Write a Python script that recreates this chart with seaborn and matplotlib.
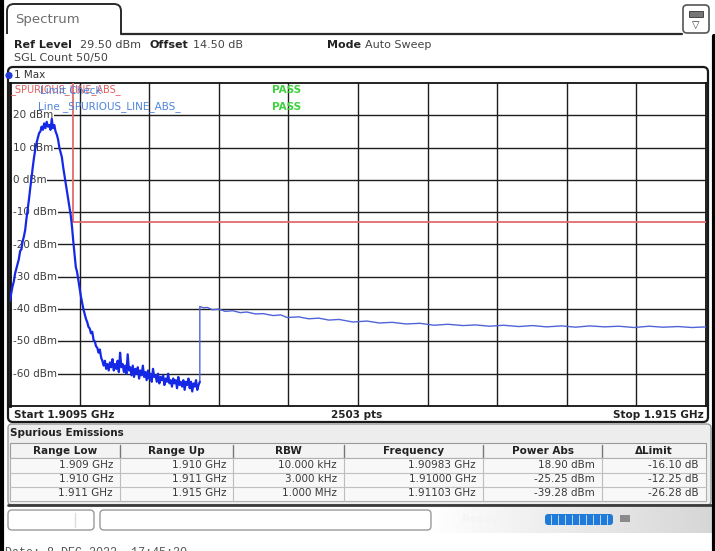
import numpy as np
import pandas as pd
import matplotlib
matplotlib.use("Agg")
import matplotlib.pyplot as plt
import seaborn as sns
from matplotlib.patches import FancyBboxPatch, Rectangle, Circle
from matplotlib.lines import Line2D
from matplotlib.transforms import Affine2D

# ---- trace (MHz, dBm) ----
# dense part: carrier + close-in emissions up to 1.911 GHz
peak_freq = [
    1909.50, 1909.51, 1909.52, 1909.53, 1909.54, 1909.55, 1909.56, 1909.57, 1909.58, 1909.59,
    1909.60, 1909.61, 1909.62, 1909.63, 1909.64, 1909.65, 1909.66, 1909.67, 1909.68, 1909.69,
    1909.70, 1909.71, 1909.72, 1909.73, 1909.74, 1909.75, 1909.76, 1909.77, 1909.78, 1909.79,
    1909.80, 1909.81, 1909.82, 1909.83, 1909.84, 1909.85, 1909.86, 1909.87, 1909.88, 1909.89,
    1909.90, 1909.91, 1909.92, 1909.93, 1909.94, 1909.95, 1909.96, 1909.97, 1909.98, 1909.99,
    1910.00, 1910.01, 1910.02, 1910.03, 1910.04, 1910.05, 1910.06, 1910.07, 1910.08, 1910.09,
    1910.10, 1910.11, 1910.12, 1910.13, 1910.14, 1910.15, 1910.16, 1910.17, 1910.18, 1910.19,
    1910.20, 1910.21, 1910.22, 1910.23, 1910.24, 1910.25, 1910.26, 1910.27, 1910.28, 1910.29,
    1910.30, 1910.31, 1910.32, 1910.33, 1910.34, 1910.35, 1910.36, 1910.37, 1910.38, 1910.39,
    1910.40, 1910.41, 1910.42, 1910.43, 1910.44, 1910.45, 1910.46, 1910.47, 1910.48, 1910.49,
    1910.50, 1910.51, 1910.52, 1910.53, 1910.54, 1910.55, 1910.56, 1910.57, 1910.58, 1910.59,
    1910.60, 1910.61, 1910.62, 1910.63, 1910.64, 1910.65, 1910.66, 1910.67, 1910.68, 1910.69,
    1910.70, 1910.71, 1910.72, 1910.73, 1910.74, 1910.75, 1910.76, 1910.77, 1910.78, 1910.79,
    1910.80, 1910.81, 1910.82, 1910.83, 1910.84, 1910.85, 1910.86, 1910.87, 1910.88, 1910.89,
    1910.90, 1910.91, 1910.92, 1910.93, 1910.94, 1910.95, 1910.96, 1910.97, 1910.98, 1910.99,
    1911.00,
]
peak_level = [
    -37.5, -35.0, -33.0, -31.5, -29.0, -27.5, -26.0, -24.5, -22.0, -21.5,
    -19.0, -17.5, -15.5, -12.0, -9.0, -6.0, -2.5, 0.5, 4.0, 7.0,
    9.5, 11.5, 13.0, 14.5, 15.0, 16.5, 15.5, 17.5, 16.0, 18.0,
    16.5, 17.0, 15.5, 18.9, 16.0, 17.0, 15.0, 14.0, 12.5, 10.0,
    8.5, 7.0, 4.0, 1.5, -1.0, -3.5, -6.0, -8.5, -11.0, -14.5,
    -19.0, -23.0, -27.0, -28.5, -31.0, -33.5, -36.0, -38.0, -40.0, -41.5,
    -43.0, -44.0, -45.5, -46.0, -47.5, -47.0, -49.5, -50.0, -51.5, -52.0,
    -53.5, -52.5, -55.0, -56.0, -57.5, -56.0, -58.5, -57.0, -59.0, -56.5,
    -58.0, -55.5, -59.0, -57.0, -58.5, -56.0, -59.5, -53.5, -58.0, -57.0,
    -59.5, -57.5, -60.0, -54.0, -59.0, -58.0, -60.5, -57.5, -61.0, -58.5,
    -60.0, -58.0, -61.5, -59.0, -60.5, -57.5, -61.0, -59.5, -62.0, -59.0,
    -61.5, -60.0, -62.5, -58.5, -61.0, -60.5, -62.5, -60.0, -63.0, -61.0,
    -62.0, -60.5, -63.5, -61.5, -62.5, -60.0, -63.0, -62.0, -64.0, -61.5,
    -63.0, -62.0, -64.5, -61.0, -63.5, -62.5, -64.0, -62.0, -65.0, -62.5,
    -63.5, -61.5, -64.5, -62.5, -65.5, -63.0, -64.0, -62.0, -65.0, -63.5,
    -62.5,
]
# sweep part above 1.911 GHz (1 MHz RBW), including the step up
sweep_freq = [
    1911.00, 1911.00, 1911.03, 1911.06, 1911.10, 1911.15, 1911.20, 1911.26, 1911.32, 1911.37,
    1911.44, 1911.50, 1911.58, 1911.64, 1911.69, 1911.78, 1911.86, 1911.94, 1912.02, 1912.10,
    1912.21, 1912.32, 1912.42, 1912.52, 1912.63, 1912.74, 1912.85, 1912.96, 1913.08, 1913.18,
    1913.29, 1913.40, 1913.52, 1913.63, 1913.74, 1913.86, 1913.97, 1914.08, 1914.20, 1914.31,
    1914.43, 1914.55, 1914.66, 1914.78, 1914.89, 1915.00,
]
sweep_level = [
    -62.5, -39.2, -39.6, -39.5, -40.2, -40.0, -40.7, -40.5, -41.1, -40.9,
    -41.5, -41.4, -42.0, -41.8, -42.6, -42.4, -43.0, -42.8, -43.4, -43.2,
    -44.0, -43.7, -44.3, -44.1, -44.6, -44.4, -45.0, -44.7, -45.1, -44.9,
    -45.3, -45.0, -45.4, -45.1, -45.5, -45.2, -45.6, -45.2, -45.5, -45.3,
    -45.7, -45.3, -45.6, -45.4, -45.7, -45.5,
]

limit_freq = [1910.0, 1910.0, 1915.0]
limit_level = [30.0, -13.0, -13.0]

f_start, f_stop = 1909.5, 1915.0
n_points = 2503
ref_top, ref_bottom = 30, -70
y_ticks = [20, 10, 0, -10, -20, -30, -40, -50, -60]

# ---- spurious emissions table ----
col_names = ['Range Low', 'Range Up', 'RBW', 'Frequency', 'Power Abs', '\u0394Limit']
range_low = ['1.909 GHz', '1.910 GHz', '1.911 GHz']
range_up = ['1.910 GHz', '1.911 GHz', '1.915 GHz']
rbw = ['10.000 kHz', '3.000 kHz', '1.000 MHz']
peak_freq_tbl = ['1.90983 GHz', '1.91000 GHz', '1.91103 GHz']
power_abs = ['18.90 dBm', '-25.25 dBm', '-39.28 dBm']
delta_limit = ['-16.10 dB', '-12.25 dB', '-26.28 dB']

sns.set_theme(style="white")
plt.rcParams['font.family'] = ['DejaVu Sans']

W, H = 715, 551
fig = plt.figure(figsize=(W / 100, H / 100), dpi=100)
fig.patch.set_facecolor('white')
# pixel coords, y going down like the screenshot
px = Affine2D().scale(1 / 100, -1 / 100).translate(0, H / 100) + fig.dpi_scale_trans


def ptext(x, y, s, **kw):
    kw.setdefault('va', 'center')
    kw.setdefault('fontsize', 8)
    kw.setdefault('color', '#222222')
    return fig.text(x, y, s, transform=px, **kw)


def pline(xs, ys, **kw):
    fig.add_artist(Line2D(xs, ys, transform=px, **kw))


def pbox(x0, y0, x1, y1, r=4, **kw):
    p = FancyBboxPatch((x0, y0), x1 - x0, y1 - y0,
                       boxstyle=f"round,pad=0,rounding_size={r}", transform=px, **kw)
    fig.add_artist(p)
    return p


# ---- header / tab ----
pbox(7, 4, 121, 48, r=7, fc='white', ec='#2a2a2a', lw=1.4)
fig.add_artist(Rectangle((4, 34), 120, 16, transform=px, fc='white', ec='none'))
pline([121, 682], [33.5, 33.5], color='#2a2a2a', lw=1.6)
ptext(15, 19, 'Spectrum', fontsize=9.5, color='#6e6e6e')
pbox(683, 5, 709, 33, r=4, fc='white', ec='#555555', lw=1.2)
fig.add_artist(Rectangle((689, 11), 14, 6, transform=px, fc='#777777', ec='#333333', lw=0.6))
ptext(696, 25, '\u25bd', fontsize=7, ha='center', color='#333333')

ptext(14, 45, 'Ref Level', weight='bold')
ptext(80, 45, '29.50 dBm', color='#444444')
ptext(149, 45, 'Offset', weight='bold')
ptext(193, 45, '14.50 dB', color='#444444')
ptext(327, 45, 'Mode', weight='bold')
ptext(365, 45, 'Auto Sweep', color='#444444')
ptext(14, 58, 'SGL Count 50/50', color='#444444')

# ---- graph frame ----
pbox(8, 67, 708, 422, r=5, fc='none', ec='#1a1a1a', lw=1.6)
fig.add_artist(Circle((9, 75.5), 3.6, transform=px, fc='#1f3ad6', ec='none'))
ptext(14, 75.5, '1 Max', fontsize=7.5, color='#333333')

ax = fig.add_axes([10 / W, 1 - 406 / H, 696 / W, 323 / H])
df_limit = pd.DataFrame({'freq': limit_freq, 'level': limit_level})
df_peak = pd.DataFrame({'freq': peak_freq, 'level': peak_level})
df_sweep = pd.DataFrame({'freq': sweep_freq, 'level': sweep_level})

sns.lineplot(data=df_limit, x='freq', y='level', ax=ax, sort=False, estimator=None,
             color='#e26b6b', lw=1.3, zorder=3)
sns.lineplot(data=df_sweep, x='freq', y='level', ax=ax, sort=False, estimator=None,
             color='#5064d8', lw=1.0, zorder=4)
sns.lineplot(data=df_peak, x='freq', y='level', ax=ax, sort=False, estimator=None,
             color='#1528e6', lw=1.6, zorder=5)

ax.set_xlim(f_start, f_stop)
ax.set_ylim(ref_bottom, ref_top)
ax.set_xticks(np.linspace(f_start, f_stop, 11))
ax.set_yticks(y_ticks)
ax.grid(True, color='#1e1e1e', lw=1.0)
ax.set_axisbelow(True)
ax.tick_params(length=0, labelbottom=False, labelleft=False)
ax.set_xlabel('')
ax.set_ylabel('')
for s in ax.spines.values():
    s.set_color('#111111')
    s.set_linewidth(1.3)
ax.spines['left'].set_linewidth(2.0)

for v in y_ticks:
    ax.text(0.004, v, f'{v} dBm', transform=ax.get_yaxis_transform(), ha='left', va='center',
            fontsize=7.5, color='#3c3c3c', zorder=4.5,
            bbox=dict(fc='white', ec='none', pad=0.6))

# limit check annotations (overlap as on the instrument screen)
ptext(10, 89.5, '_SPURIOUS_LINE_ABS_', fontsize=7, color='#e06060')
ptext(40, 91, 'Limit Check', fontsize=7.5, color='#4f85dc')
ptext(272, 90, 'PASS', fontsize=7.5, color='#3fd23f', weight='bold')
ptext(38, 107, 'Line _SPURIOUS_LINE_ABS_', fontsize=7.5, color='#4f85dc')
ptext(272, 107, 'PASS', fontsize=7.5, color='#3fd23f', weight='bold')

# start / stop bar
ptext(14, 415, f'Start {f_start / 1000:.4f} GHz', fontsize=7.5, weight='bold')
ptext(357, 415, f'{n_points} pts', fontsize=7.5, weight='bold', ha='center')
ptext(704, 415, f'Stop {f_stop / 1000:.3f} GHz', fontsize=7.5, weight='bold', ha='right')

# ---- spurious emissions table ----
pbox(8, 424, 711, 505, r=4, fc='#ededed', ec='#9a9a9a', lw=1.0)
ptext(10, 433, 'Spurious Emissions', fontsize=7.5, weight='bold')
col_edges = [10, 120, 233, 344, 483, 602, 706]
fig.add_artist(Rectangle((10, 443), 696, 15, transform=px, fc='#f3f3f3', ec='#9a9a9a', lw=0.8))
fig.add_artist(Rectangle((10, 458), 696, 43, transform=px, fc='#f8f8f8', ec='#b0b0b0', lw=0.8))
for yl in [472.5, 486.5]:
    pline([10, 706], [yl, yl], color='#c0c0c0', lw=0.8)
for xe in col_edges[1:-1]:
    pline([xe, xe], [445, 457], color='#777777', lw=1.0)
    pline([xe, xe], [458, 501], color='#bdbdbd', lw=0.8)
for i, name in enumerate(col_names):
    ptext((col_edges[i] + col_edges[i + 1]) / 2, 451, name, fontsize=7.5,
          weight='bold', ha='center')
columns = [range_low, range_up, rbw, peak_freq_tbl, power_abs, delta_limit]
for j, col in enumerate(columns):
    for i, val in enumerate(col):
        ptext(col_edges[j + 1] - 7, 465.5 + 14 * i, val, fontsize=7.5, ha='right',
              color='#3a3a3a')
pline([8, 711], [505, 505], color='#3a3a3a', lw=2.0)

# ---- status bar ----
grad = np.linspace(0, 1, 256).reshape(1, -1)
sax = fig.add_axes([430 / W, 1 - 533 / H, 283 / W, 26 / H])
sax.imshow(grad, aspect='auto', cmap=sns.blend_palette(['#ffffff', '#d6d6d6'], as_cmap=True))
sax.set_axis_off()
pbox(8, 510, 94, 530, r=4, fc='white', ec='#9a9a9a', lw=1.0)
pline([75, 75], [513, 527], color='#dddddd', lw=1.0)
pbox(100, 510, 431, 530, r=4, fc='white', ec='#9a9a9a', lw=1.0)
ptext(480, 519, 'Ready', fontsize=7.5, color='#f4f4f4', weight='bold', ha='center')
pbox(545, 514, 613, 525, r=3, fc='#1f7ad8', ec='none')
for xs in np.linspace(551, 607, 9):
    pline([xs, xs], [515, 524], color='#bcd8f5', lw=0.7)
fig.add_artist(Rectangle((620, 515), 10, 7, transform=px, fc='#8a8a8a', ec='none'))

ptext(5, 547, 'Date: 8.DEC.2022  17:45:30', fontsize=8.5, va='top', color='#555555',
      family=['Liberation Mono', 'DejaVu Sans Mono'])

# outer border
pline([1.5, 1.5], [0, H], color='black', lw=3)
pline([713.5, 713.5], [36, H], color='black', lw=3)

fig.savefig('out.png', dpi=100)
